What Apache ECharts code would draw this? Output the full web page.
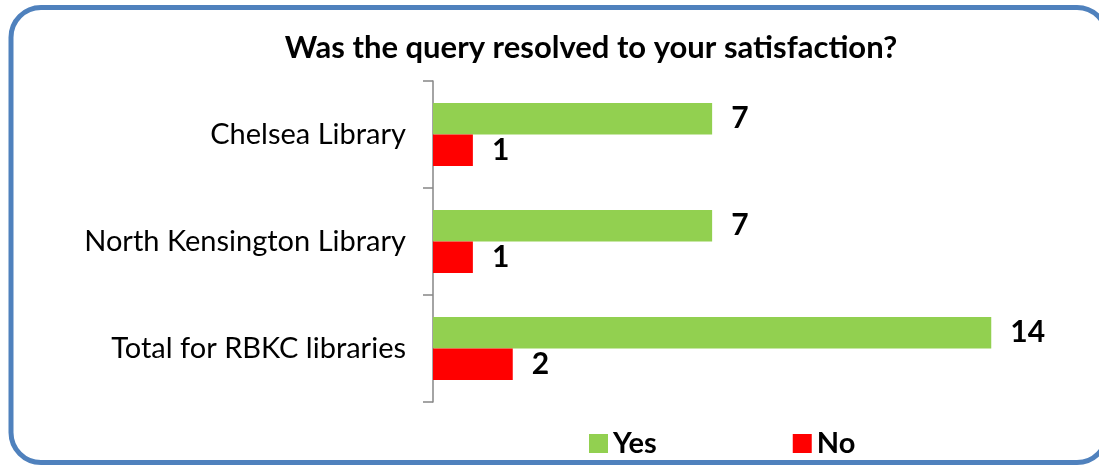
<!DOCTYPE html>
<html>
<head>
<meta charset="utf-8">
<script src="https://cdn.jsdelivr.net/npm/echarts@6/dist/echarts.min.js"></script>
<style>
  html, body { margin: 0; padding: 0; background: #fff; }
  #chart { width: 1099px; height: 465px; }
</style>
</head>
<body>
<div id="chart"></div>
<script>
const categories = ['Chelsea Library', 'North Kensington Library', 'Total for RBKC libraries']
const yesValues = [7, 7, 14]
const noValues = [1, 1, 2]

const chart = echarts.init(document.getElementById('chart'))

const labelStyle = {
  show: true,
  position: 'right',
  distance: 19,
  fontFamily: 'Lato',
  fontWeight: 'bold',
  fontSize: 30,
  color: '#000',
}

chart.setOption({
  animation: false,
  backgroundColor: '#fff',
  title: {
    text: 'Was the query resolved to your satisfaction?',
    left: 586,
    top: 27,
    textAlign: 'center',
    textStyle: {
      fontFamily: 'Lato',
      fontWeight: 'bold',
      fontSize: 31,
      color: '#000',
    },
  },
  legend: {
    data: ['Yes', 'No'],
    left: 589,
    top: 429,
    padding: 0,
    itemGap: 136,
    itemWidth: 19,
    itemHeight: 19,
    icon: 'rect',
    textStyle: {
      fontFamily: 'Lato',
      fontWeight: 'bold',
      fontSize: 29,
      color: '#000',
      padding: [0, 0, 0, 0],
    },
  },
  graphic: [
    {
      type: 'rect',
      silent: true,
      z: 100,
      shape: { x: 11, y: 7.5, width: 1096, height: 455, r: 30 },
      style: { fill: 'none', stroke: '#4F81BD', lineWidth: 5 },
    },
  ],
  grid: {
    left: 433,
    right: 28,
    top: 81,
    bottom: 63,
  },
  xAxis: {
    type: 'value',
    min: 0,
    max: 16,
    show: false,
  },
  yAxis: {
    type: 'category',
    data: categories,
    inverse: true,
    axisLine: { show: true, lineStyle: { color: '#868686', width: 1.5 } },
    axisTick: { show: true, length: 10, lineStyle: { color: '#868686', width: 1.5 } },
    axisLabel: {
      margin: 27,
      fontFamily: 'Lato',
      fontSize: 29,
      color: '#000',
    },
  },
  series: [
    {
      name: 'Yes',
      type: 'bar',
      data: yesValues,
      barGap: '0%',
      barCategoryGap: '41%',
      itemStyle: { color: '#92D050' },
      label: labelStyle,
    },
    {
      name: 'No',
      type: 'bar',
      data: noValues,
      itemStyle: { color: '#FF0000' },
      label: labelStyle,
    },
  ],
})
</script>
</body>
</html>
